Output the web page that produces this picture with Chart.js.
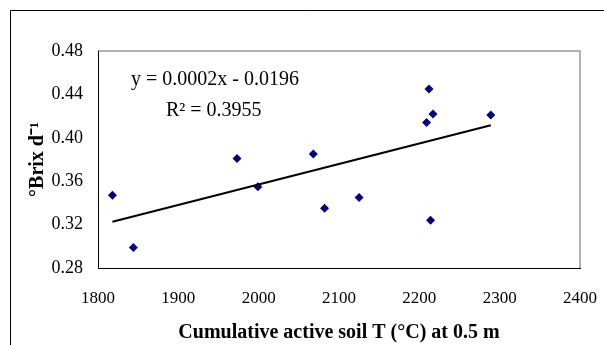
<!DOCTYPE html>
<html>
<head>
<meta charset="utf-8">
<script src="https://cdn.jsdelivr.net/npm/chart.js@4"></script>
<style>
html,body{margin:0;padding:0;background:#fff;}
#wrap{width:604px;height:345px;position:relative;}
</style>
</head>
<body>
<div id="wrap"><canvas id="c" width="604" height="345"></canvas></div>
<script>
// Data
const soilT = [1818, 1844, 1973, 1999, 2068, 2082, 2125, 2209, 2212, 2217, 2214, 2289];
const brixRate = [0.347, 0.299, 0.381, 0.355, 0.385, 0.335, 0.345, 0.414, 0.445, 0.422, 0.324, 0.421];
const trendX = [1818, 2289];
const trendY = [0.3226, 0.4115];
const xTicks = [1800, 1900, 2000, 2100, 2200, 2300, 2400];
const yTicks = [0.28, 0.32, 0.36, 0.40, 0.44, 0.48];
const equationText = "y = 0.0002x - 0.0196";
const r2Text = "R\u00B2 = 0.3955";
const xTitle = "Cumulative active soil T (\u00B0C) at 0.5 m";
const yTitle = "\u00B0Brix d\u207B\u00B9";

const FONT = "'Liberation Serif', 'Times New Roman', serif";

const framePlugin = {
  id: 'frame',
  beforeDraw(chart) {
    const ctx = chart.ctx;
    ctx.save();
    ctx.fillStyle = '#fff';
    ctx.fillRect(0, 0, chart.width, chart.height);
    ctx.strokeStyle = '#000';
    ctx.lineWidth = 1;
    ctx.beginPath();
    ctx.moveTo(10.5, chart.height + 2);
    ctx.lineTo(10.5, 10.5);
    ctx.lineTo(chart.width + 2, 10.5);
    ctx.stroke();
    const a = chart.chartArea;
    ctx.strokeStyle = '#999';
    ctx.lineWidth = 1.5;
    ctx.beginPath();
    ctx.moveTo(a.left, a.top);
    ctx.lineTo(a.right, a.top);
    ctx.lineTo(a.right, a.bottom);
    ctx.stroke();
    ctx.restore();
  },
  afterDatasetsDraw(chart) {
    const ctx = chart.ctx;
    ctx.save();
    ctx.fillStyle = '#000';
    ctx.font = "20px " + FONT;
    ctx.textBaseline = 'middle';
    ctx.textAlign = 'left';
    ctx.fillText(equationText, 131, 80);
    ctx.fillText(r2Text, 166, 111);
    ctx.restore();
  }
};

new Chart(document.getElementById('c'), {
  type: 'scatter',
  data: {
    datasets: [
      {
        label: 'data',
        data: soilT.map((x, i) => ({x: x, y: brixRate[i]})),
        pointStyle: 'rectRot',
        pointRadius: 4.5,
        pointHoverRadius: 4.5,
        backgroundColor: '#000080',
        borderColor: '#000080',
        borderWidth: 0,
        order: 2
      },
      {
        label: 'trend',
        type: 'line',
        data: trendX.map((x, i) => ({x: x, y: trendY[i]})),
        borderColor: '#000',
        borderWidth: 2,
        pointRadius: 0,
        fill: false,
        order: 1
      }
    ]
  },
  options: {
    responsive: false,
    animation: false,
    events: [],
    layout: {padding: {left: 10, top: 51, right: 24, bottom: 0}},
    plugins: {legend: {display: false}, tooltip: {enabled: false}},
    scales: {
      x: {
        type: 'linear',
        min: 1800, max: 2400,
        afterBuildTicks(s) { s.ticks = xTicks.map(v => ({value: v})); },
        afterFit(s) { s.height = 77; s.paddingLeft = 0; s.paddingRight = 0; },
        grid: {display: false, drawOnChartArea: false, drawTicks: true, tickLength: 5, tickColor: '#000'},
        border: {display: true, color: '#000', width: 1},
        ticks: {color: '#000', font: {family: FONT, size: 17}, padding: 15, maxRotation: 0,
                callback: v => String(v)},
        title: {display: true, text: xTitle, color: '#000',
                font: {family: FONT, size: 20, weight: 'bold'}, padding: {top: 0, bottom: 0}}
      },
      y: {
        type: 'linear',
        min: 0.28, max: 0.48,
        afterBuildTicks(s) { s.ticks = yTicks.map(v => ({value: v})); },
        afterFit(s) { s.width = 88; s.paddingTop = 0; s.paddingBottom = 0; },
        grid: {display: false, drawOnChartArea: false, drawTicks: true, tickLength: 5, tickColor: '#000'},
        border: {display: true, color: '#000', width: 1},
        ticks: {color: '#000', font: {family: FONT, size: 18}, padding: 10,
                callback: v => v.toFixed(2)},
        title: {display: true, text: yTitle, color: '#000',
                font: {family: FONT, size: 20, weight: 'bold'}, padding: {top: 16, bottom: 0}}
      }
    }
  },
  plugins: [framePlugin]
});
</script>
</body>
</html>
